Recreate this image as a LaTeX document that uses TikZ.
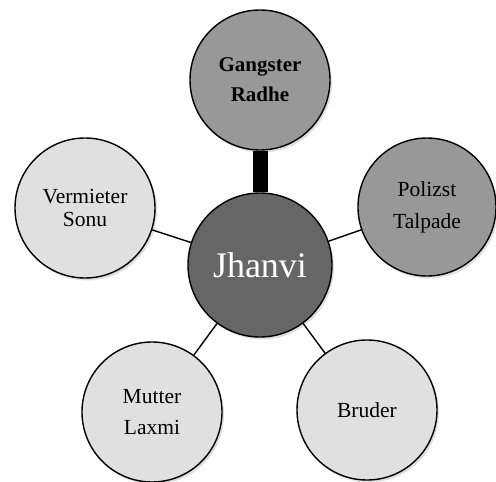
\documentclass[tikz,border=0pt]{standalone}
\usepackage{fontspec}
\setmainfont{Liberation Serif}
\usetikzlibrary{shadows}
\definecolor{lightc}{HTML}{E0E0E0}
\definecolor{midc}{HTML}{989898}
\definecolor{darkc}{HTML}{666666}
\tikzset{
  person/.style={circle, draw=black, line width=1.4pt, minimum size=140pt, inner sep=0pt,
    align=center, font=\fontsize{21.5}{31}\selectfont,
    drop shadow={opacity=0.25, shadow xshift=2pt, shadow yshift=-2.5pt}},
  lightp/.style={person, fill=lightc},
  midp/.style={person, fill=midc},
  link/.style={line width=1.4pt, draw=black},
  strong/.style={line width=15pt, draw=black}
}
\begin{document}
\begin{tikzpicture}[x=1pt,y=-1pt]
\useasboundingbox (0,0) rectangle (496,482);
\node[midp, font=\bfseries\fontsize{21}{30}\selectfont] (radhe) at (260,80) {Gangster\\Radhe};
\node[lightp, font=\fontsize{21.5}{23}\selectfont] (sonu) at (85,208) {Vermieter\\Sonu};
\node[midp, minimum size=138pt, font=\fontsize{21.5}{32}\selectfont] (talpade) at (427,207) {Polizst\\Talpade};
\node[lightp] (laxmi) at (152,412) {Mutter\\Laxmi};
\node[lightp] (bruder) at (367,410) {Bruder};
\node[person, fill=darkc, minimum size=144pt, text=white, font=\fontsize{36}{44}\selectfont] (jhanvi) at (260,265) {Jhanvi};
\draw[strong] (radhe.south) -- (jhanvi.north);
\draw[link] (jhanvi) -- (sonu);
\draw[link] (jhanvi) -- (talpade);
\draw[link] (jhanvi) -- (laxmi);
\draw[link] (jhanvi) -- (bruder);
\end{tikzpicture}
\end{document}
